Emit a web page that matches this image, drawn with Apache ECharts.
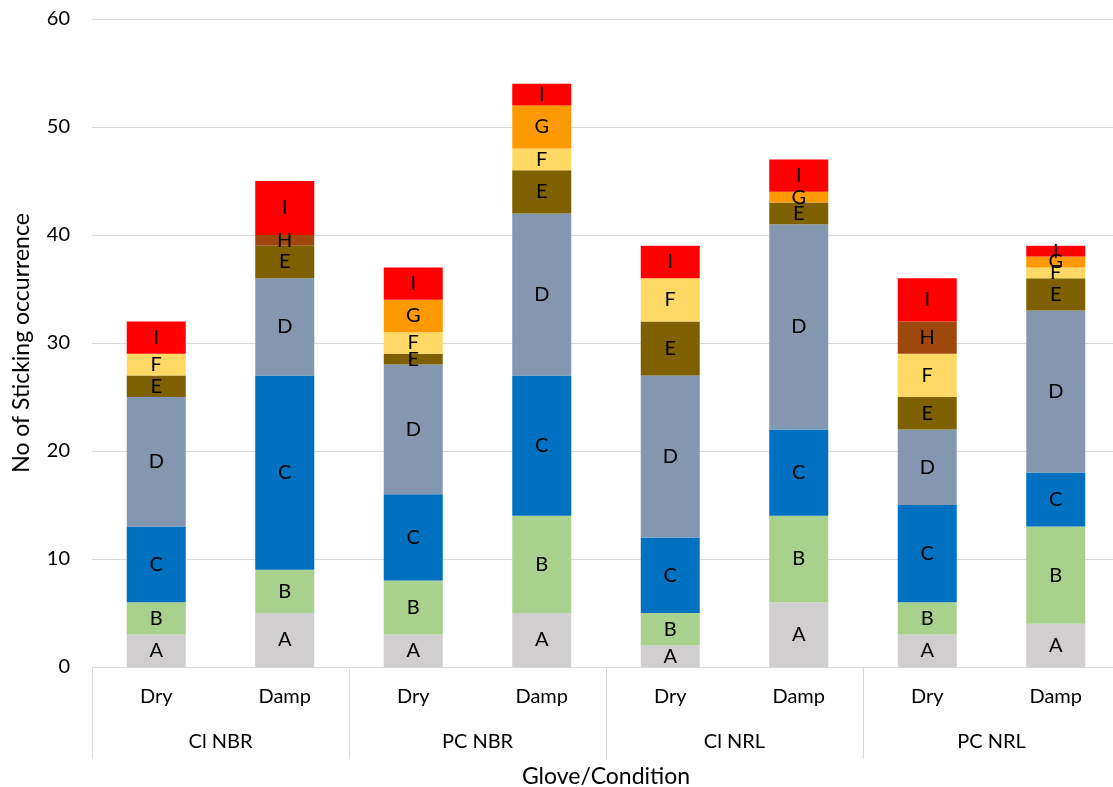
<!DOCTYPE html>
<html>
<head>
<meta charset="utf-8">
<script src="https://cdn.jsdelivr.net/npm/echarts@6/dist/echarts.min.js"></script>
<style>
html,body{margin:0;padding:0;background:#fff;}
#chart{width:1113px;height:787px;}
</style>
</head>
<body>
<div id="chart"></div>
<script>
const conditions = ["Dry","Damp","Dry","Damp","Dry","Damp","Dry","Damp"];
const gloves = ["Cl NBR","PC NBR","Cl NRL","PC NRL"];
const seriesNames = ["A","B","C","D","E","F","G","H","I"];
const A = [3,5,3,5,2,6,3,4];
const B = [3,4,5,9,3,8,3,9];
const C = [7,18,8,13,7,8,9,5];
const D = [12,9,12,15,15,19,7,15];
const E = [2,3,1,4,5,2,3,3];
const F = [2,0,2,2,4,0,4,1];
const G = [0,0,3,4,0,1,0,1];
const H = [0,1,0,0,0,0,3,0];
const I = [3,5,3,2,3,3,4,1];
const yTicks = {min:0, max:60, interval:10};
const colors = ["#D0CECE","#A9D18E","#0070C0","#8497B0","#7F6000","#FFD966","#FF9900","#9E480E","#FF0000"];

const values = [A,B,C,D,E,F,G,H,I];
const FONT = "Lato";
const chart = echarts.init(document.getElementById('chart'));
chart.setOption({
  animation:false,
  textStyle:{fontFamily:FONT},
  grid:{left:92, top:19, width:1028, height:648, containLabel:false, outerBoundsMode:'none'},
  xAxis:[{
    type:'category', data:conditions,
    axisLine:{show:true, lineStyle:{color:'#D9D9D9', width:1}},
    axisTick:{show:false},
    axisLabel:{margin:20, fontSize:20, color:'#000', fontFamily:FONT, interval:0}
  },{
    type:'category', data:gloves, position:'bottom', offset:92,
    axisLine:{show:false},
    axisTick:{show:true, inside:true, length:92, lineStyle:{color:'#D9D9D9', width:1}},
    axisLabel:{margin:-27, fontSize:20, color:'#000', fontFamily:FONT, interval:0},
    name:'Glove/Condition', nameLocation:'middle', nameGap:11,
    nameTextStyle:{fontSize:23, color:'#000', fontFamily:FONT, verticalAlign:'middle', lineHeight:23, padding:0}
  }],
  yAxis:{
    type:'value', min:yTicks.min, max:yTicks.max, interval:yTicks.interval,
    axisLine:{show:false}, axisTick:{show:false},
    axisLabel:{margin:22, fontSize:20, color:'#000', fontFamily:FONT},
    splitLine:{lineStyle:{color:'#D9D9D9', width:1}}
  },
  graphic:[{
    type:'text', x:22, y:343, rotation:Math.PI/2,
    style:{text:'No of Sticking occurrence', fontSize:23, fill:'#000', fontFamily:FONT, align:'center', verticalAlign:'middle'}
  }],
  series: seriesNames.map((n,i)=>({
    name:n, type:'bar', stack:'total', xAxisIndex:0, barWidth:59,
    data: values[i],
    itemStyle:{color:colors[i]},
    label:{show:true, position:'inside', color:'#000', fontSize:20, fontFamily:FONT,
      formatter: p => p.value ? n : ''}
  }))
});
</script>
</body>
</html>
